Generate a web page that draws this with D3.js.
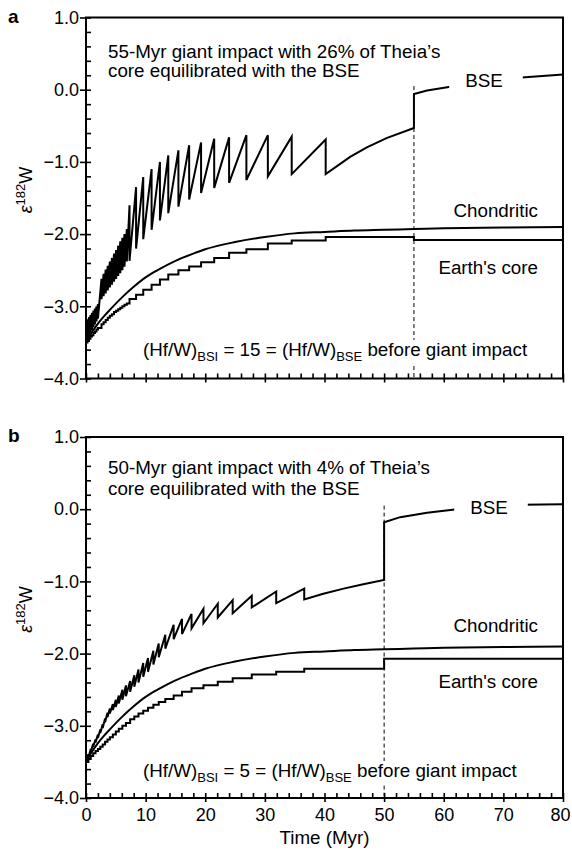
<!DOCTYPE html>
<meta charset="utf-8">
<head>
<style>
  body { margin: 0; background: #fff; }
  svg { font-family: "Liberation Sans", Arial, Helvetica, sans-serif; }
  .curve { fill: none; stroke: #000; stroke-width: 2px; stroke-linejoin: miter; }
  .frame { fill: none; stroke: #000; stroke-width: 2px; }
  .axis path { display: none; }
  .axis line { stroke: #000; stroke-width: 1.6px; }
  .axis text { font-size: 18px; fill: #000; }
  .note { font-size: 18.8px; }
</style>
</head>
<body>
<script src="https://d3js.org/d3.v7.min.js"></script>
<script>
// ---- data ----
var xTicks = [0, 10, 20, 30, 40, 50, 60, 70, 80];
var yTicks = [1, 0, -1, -2, -3, -4];
var startValue = -3.5;

// chondritic reference curve (same in both panels)
var chondT = [0, 1, 2, 3, 4, 6, 8, 10, 12, 15, 18, 20, 25, 30, 35, 40, 45, 50, 55, 60, 70, 80];
var chondV = [-3.50, -3.36, -3.24, -3.14, -3.05, -2.88, -2.73, -2.60, -2.50, -2.37, -2.27, -2.21,
              -2.11, -2.04, -1.99, -1.97, -1.95, -1.94, -1.93, -1.92, -1.91, -1.90];

// panel a: impacts (time), BSE just before / after each impact, core level after impact
var aImpactT = [0.25, 0.5, 0.75, 1.0, 1.25, 1.5, 1.75, 2.0,
                2.6, 2.95, 3.3, 3.65, 4.0, 4.35, 4.7, 5.05, 5.4, 5.75, 6.1, 6.45, 6.85,
                7.3, 8.4, 9.6, 11.0, 12.4, 13.8, 15.5, 17.3, 19.3, 21.5, 24.0, 26.9, 30.5, 34.5, 40.2];
var aPeak = [-3.18, -3.15, -3.12, -3.09, -3.06, -3.03, -3.00, -2.97,
             -2.62, -2.55, -2.49, -2.44, -2.38, -2.33, -2.27, -2.22, -2.16, -2.10, -2.05, -2.00, -1.93,
             -1.60, -1.35, -1.21, -1.10, -1.00, -0.91, -0.84, -0.77, -0.73, -0.68, -0.66, -0.63, -0.63, -0.65, -0.69];
var aTrough = [-3.45, -3.41, -3.37, -3.33, -3.29, -3.25, -3.21, -3.17,
               -2.90, -2.86, -2.82, -2.78, -2.74, -2.70, -2.66, -2.62, -2.58, -2.54, -2.50, -2.45, -2.38,
               -2.37, -2.20, -2.07, -1.94, -1.81, -1.71, -1.62, -1.52, -1.43, -1.36, -1.29, -1.25, -1.20, -1.17, -1.17];
var aCore = [-3.48, -3.45, -3.42, -3.40, -3.37, -3.35, -3.32, -3.30,
             -3.25, -3.22, -3.19, -3.16, -3.13, -3.11, -3.08, -3.06, -3.04, -3.02, -3.00, -2.98, -2.96,
             -2.90, -2.84, -2.77, -2.70, -2.63, -2.56, -2.50, -2.45, -2.39, -2.33, -2.26, -2.21, -2.13, -2.09, -2.04];
var aTailT = [44.3, 47.1, 50.4, 55];
var aTailV = [-0.93, -0.80, -0.67, -0.53];
var aPostT = [55, 57.2, 61.1, 65, 70, 73.1, 80];
var aPostV = [-0.06, -0.01, 0.04, 0.09, 0.14, 0.17, 0.21];
var aGiantT = 55;
var aCoreAfter = -2.08;

// panel b
var bImpactT = [0.4, 0.8, 1.2, 1.6, 2.0, 2.4, 2.8, 3.2, 3.6, 4.0, 4.5, 5.0, 5.5,
                6.1, 6.7, 7.4, 8.1, 8.8, 9.6, 10.4, 11.3, 12.2, 13.3,
                14.7, 16.1, 17.7, 19.7, 22.1, 24.6, 27.8, 31.9, 36.6];
var bPeak = [-3.40, -3.32, -3.25, -3.19, -3.12, -3.05, -2.98, -2.90, -2.82, -2.76, -2.70, -2.64, -2.58,
             -2.50, -2.44, -2.38, -2.30, -2.22, -2.13, -2.06, -1.96, -1.86, -1.74,
             -1.60, -1.52, -1.45, -1.38, -1.31, -1.26, -1.20, -1.14, -1.10];
var bTrough = [-3.44, -3.36, -3.29, -3.23, -3.17, -3.10, -3.03, -2.95, -2.88, -2.83, -2.78, -2.74, -2.69,
               -2.64, -2.59, -2.53, -2.46, -2.40, -2.32, -2.25, -2.15, -2.05, -1.93,
               -1.80, -1.73, -1.65, -1.58, -1.50, -1.44, -1.36, -1.30, -1.25];
var bCore = [-3.46, -3.42, -3.38, -3.35, -3.32, -3.29, -3.26, -3.22, -3.19, -3.16, -3.12, -3.08, -3.04,
             -3.00, -2.96, -2.91, -2.87, -2.83, -2.79, -2.75, -2.71, -2.67, -2.63,
             -2.58, -2.53, -2.48, -2.44, -2.39, -2.34, -2.29, -2.25, -2.21];
var bTailT = [39.8, 43.2, 46.5, 50];
var bTailV = [-1.17, -1.10, -1.04, -0.98];
var bPostT = [50, 52.7, 57.2, 62.2, 66, 70, 73.1, 80];
var bPostV = [-0.18, -0.11, -0.05, 0.00, 0.02, 0.04, 0.06, 0.07];
var bGiantT = 50;
var bCoreAfter = -2.07;

// ---- layout ----
var W = 572, H = 850;
var svg = d3.select("body").append("svg")
    .attr("width", W)
    .attr("height", H);

var x = d3.scaleLinear().domain([0, 80]).range([86, 563]);
var fmt = d3.format(".1f");

// put a white box behind a text node so the lines under it are hidden
function blankBehind(g, node, padL, padR) {
    var bb = node.getBBox();
    g.insert("rect", function() { return node; })
        .attr("x", bb.x - padL).attr("y", bb.y + 1)
        .attr("width", bb.width + padL + padR).attr("height", bb.height - 2)
        .attr("fill", "#fff");
}

function drawPanel(p) {
    var y = d3.scaleLinear().domain([-4, 1]).range([p.bottom, p.top]);
    var line = d3.line()
        .x(function(d) { return x(d[0]); })
        .y(function(d) { return y(d[1]); });
    var g = svg.append("g");

    // BSE sawtooth
    var bse = [[0, startValue]];
    p.impT.forEach(function(t, i) {
        bse.push([t, p.peak[i]]);
        bse.push([t, p.trough[i]]);
    });
    p.tailT.forEach(function(t, i) { bse.push([t, p.tailV[i]]); });
    p.postT.forEach(function(t, i) { bse.push([t, p.postV[i]]); });

    // Earth's core staircase
    var core = [[0, startValue]], prev = startValue;
    p.impT.forEach(function(t, i) {
        core.push([t, prev]);
        core.push([t, p.core[i]]);
        prev = p.core[i];
    });
    core.push([p.gi, prev], [p.gi, p.coreAfter], [80, p.coreAfter]);

    var chond = chondT.map(function(t, i) { return [t, chondV[i]]; });

    // dashed giant impact marker
    g.append("line")
        .attr("x1", x(p.gi)).attr("x2", x(p.gi))
        .attr("y1", y(0.05)).attr("y2", y(-4))
        .attr("stroke", "#000").attr("stroke-width", 1)
        .attr("stroke-dasharray", "4,3");

    g.append("path").attr("class", "curve").attr("d", line(core));
    g.append("path").attr("class", "curve")
        .attr("d", line.curve(d3.curveMonotoneX)(chond));
    line.curve(d3.curveLinear);
    g.append("path").attr("class", "curve").attr("d", line(bse));

    // axes: outer major ticks with labels
    g.append("g").attr("class", "axis")
        .attr("transform", "translate(" + x(0) + ",0)")
        .call(d3.axisLeft(y).tickValues(yTicks).tickSize(6).tickPadding(1).tickFormat(fmt));
    // inner ticks every 0.2
    g.append("g").attr("class", "axis")
        .attr("transform", "translate(" + x(0) + ",0)")
        .call(d3.axisRight(y).tickValues(d3.range(-4, 1.001, 0.2)).tickSize(5).tickFormat(""));
    var xa = g.append("g").attr("class", "axis")
        .attr("transform", "translate(0," + p.bottom + ")")
        .call(d3.axisBottom(x).tickValues(xTicks).tickSize(4).tickPadding(6)
            .tickFormat(p.xLabels ? d3.format("d") : ""));
    // keep the last label inside the page
    xa.selectAll(".tick text").filter(function(d) { return d === 80; }).attr("dx", -3);
    g.append("g").attr("class", "axis")
        .attr("transform", "translate(0," + p.bottom + ")")
        .call(d3.axisTop(x).tickValues(d3.range(0, 80.001, 2)).tickSize(5).tickFormat(""));

    g.append("rect").attr("class", "frame")
        .attr("x", x(0)).attr("y", p.top)
        .attr("width", x(80) - x(0)).attr("height", p.bottom - p.top);

    // panel letter
    g.append("text").attr("x", 8).attr("y", p.top + 5)
        .style("font-weight", "bold").style("font-size", "19px").text(p.letter);

    // y label
    var yl = g.append("text")
        .attr("transform", "translate(32," + ((p.top + p.bottom) / 2 - 8) + ") rotate(-90)")
        .attr("text-anchor", "middle").style("font-size", "18px");
    yl.append("tspan").style("font-style", "italic").text("\u03b5");
    yl.append("tspan").attr("dy", -7).style("font-size", "13px").text("182");
    yl.append("tspan").attr("dy", 7).text("W");

    // scenario text
    g.append("text").attr("class", "note").attr("x", 108).attr("y", p.noteY[0]).text(p.note);
    g.append("text").attr("class", "note").attr("x", 108).attr("y", p.noteY[1])
        .text("core equilibrated with the BSE");

    var f = g.append("text").attr("class", "note").attr("x", 143).attr("y", p.formulaY);
    f.append("tspan").text("(Hf/W)");
    f.append("tspan").attr("dy", 5).style("font-size", "13px").text("BSI");
    f.append("tspan").attr("dy", -5).text(" = " + p.ratio + " = (Hf/W)");
    f.append("tspan").attr("dy", 5).style("font-size", "13px").text("BSE");
    f.append("tspan").attr("dy", -5).text(" before giant impact");
    blankBehind(g, f.node(), 2, 2);

    // curve labels
    var bseLab = g.append("text").attr("class", "note")
        .attr("x", p.bseX).attr("y", p.bseY).attr("text-anchor", "middle").text("BSE");
    blankBehind(g, bseLab.node(), 16, 20);
    g.append("text").attr("class", "note").attr("x", 538).attr("y", p.chondY)
        .attr("text-anchor", "end").text("Chondritic");
    g.append("text").attr("class", "note").attr("x", 538).attr("y", p.coreY)
        .attr("text-anchor", "end").text("Earth's core");

    if (p.xLabels) {
        g.append("text").attr("class", "note")
            .attr("x", x(40)).attr("y", p.bottom + 46)
            .attr("text-anchor", "middle").text("Time (Myr)");
    }
}

drawPanel({
    letter: "a", top: 17.5, bottom: 378.5, xLabels: false,
    impT: aImpactT, peak: aPeak, trough: aTrough, core: aCore,
    tailT: aTailT, tailV: aTailV, postT: aPostT, postV: aPostV,
    gi: aGiantT, coreAfter: aCoreAfter,
    note: "55-Myr giant impact with 26% of Theia\u2019s", noteY: [58, 77],
    ratio: 15, formulaY: 356,
    bseX: 484, bseY: 87, chondY: 217, coreY: 274
});

drawPanel({
    letter: "b", top: 437, bottom: 798, xLabels: true,
    impT: bImpactT, peak: bPeak, trough: bTrough, core: bCore,
    tailT: bTailT, tailV: bTailV, postT: bPostT, postV: bPostV,
    gi: bGiantT, coreAfter: bCoreAfter,
    note: "50-Myr giant impact with 4% of Theia\u2019s", noteY: [474, 495],
    ratio: 5, formulaY: 777,
    bseX: 489, bseY: 514, chondY: 632, coreY: 688
});
</script>
</body>
</html>
